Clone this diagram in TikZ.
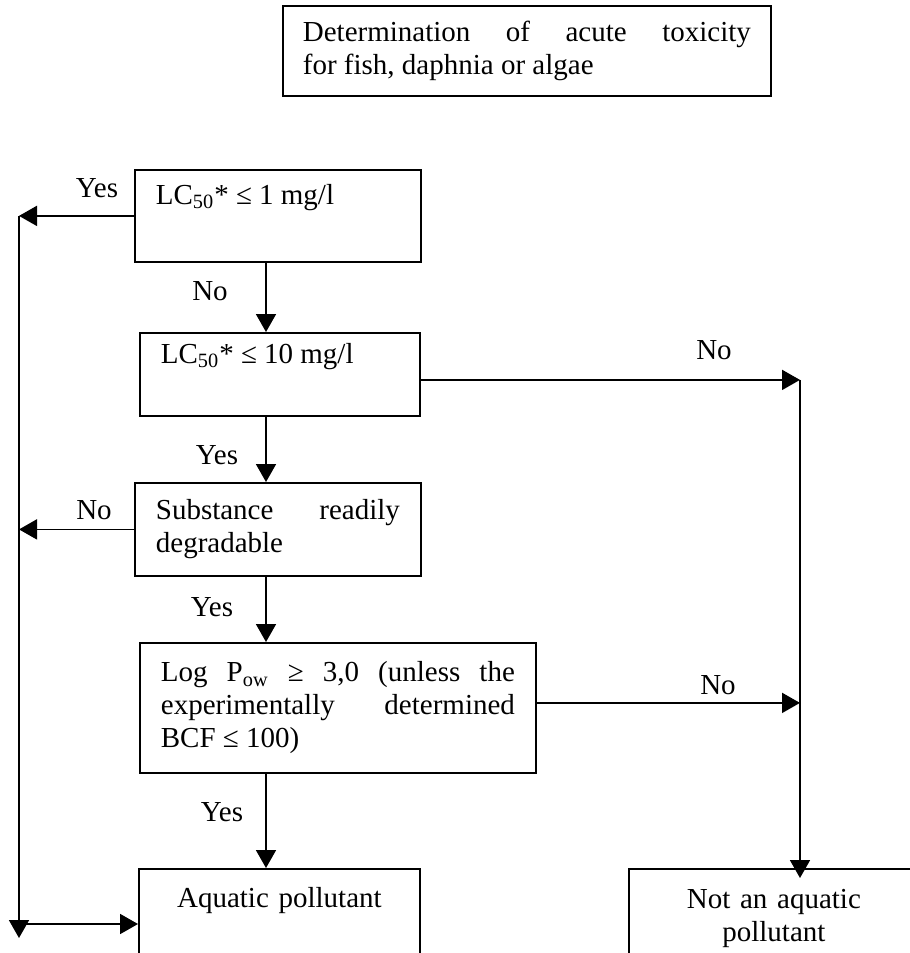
\documentclass[tikz,border=0pt]{standalone}
\usepackage{fontspec}
\setmainfont{Liberation Serif}
\usetikzlibrary{arrows.meta}

\begin{document}
\begin{tikzpicture}[x=0.5pt, y=-0.5pt, line width=0.9pt,
    box/.style={draw, anchor=north west, inner xsep=10.5pt, inner ysep=0pt,
      align=justify, font=\fontsize{14.5}{16.5}\selectfont},
    endbox/.style={box, align=center, minimum height=50pt},
    lbl/.style={font=\fontsize{14.5}{16.5}\selectfont},
    arr/.style={-{Triangle[length=9pt, width=10pt]}}]
  \clip (0,0) rectangle (910,953);
  \node[box, text width=224pt, inner xsep=10pt, minimum height=45pt] (tox) at (282,5)
    {Determination of acute toxicity\linebreak for fish, daphnia or algae};
  \node[box, text width=122pt, minimum height=46pt] (lc1) at (134,169)
    {LC\textsubscript{50}* ≤ 1 mg/l\\ \strut};
  \node[box, text width=119pt, minimum height=41.5pt] (lc10) at (139,332)
    {LC\textsubscript{50}* ≤ 10 mg/l\\ \strut};
  \node[box, text width=122pt, minimum height=46.5pt] (degr) at (134,482)
    {Substance readily\linebreak degradable};
  \node[box, text width=177pt, minimum height=65pt] (logp) at (139,642)
    {Log P\textsubscript{ow} ≥ 3,0 (unless the\linebreak experimentally determined\linebreak BCF ≤ 100)};
  \node[endbox, text width=119.5pt] (aq) at (138,868) {Aquatic pollutant\\ \strut};
  \node[endbox, text width=124pt] (notaq) at (628,868) {Not an aquatic\\ pollutant};

  \coordinate (cx) at (266,0);
  \coordinate (lmid) at (19,924);
  \coordinate (lbot) at (19,938);
  \coordinate (rbot) at (800,878);
  \coordinate (r1) at ([yshift=-2.75pt]lc10.east);
  \coordinate (r2) at ([yshift=2.5pt]logp.east);

  \draw[arr] (lc1.west) -- (lc1.west -| lbot);
  \draw[arr] (lc1.west -| lbot) -- (lbot);
  \draw[arr] (degr.west) -- (degr.west -| lbot);
  \draw[arr] (lmid) -- (lmid -| aq.west);
  \draw[arr] (lc1.south -| cx) -- (lc10.north -| cx);
  \draw[arr] (lc10.south -| cx) -- (degr.north -| cx);
  \draw[arr] (degr.south -| cx) -- (logp.north -| cx);
  \draw[arr] (logp.south -| cx) -- (aq.north -| cx);
  \draw[arr] (r1) -- (r1 -| rbot);
  \draw[arr] (r2) -- (r2 -| rbot);
  \draw[arr] (r1 -| rbot) -- (rbot);

  \node[lbl] (yes1) at (97,188) {Yes};
  \node[lbl] (no1) at (210,291) {No};
  \node[lbl] (no2) at (714,350) {No};
  \node[lbl] (yes2) at (217,455) {Yes};
  \node[lbl] (no3) at (94,510) {No};
  \node[lbl] (yes3) at (212,607) {Yes};
  \node[lbl] (no4) at (718,685) {No};
  \node[lbl] (yes4) at (222,812) {Yes};
\end{tikzpicture}
\end{document}
